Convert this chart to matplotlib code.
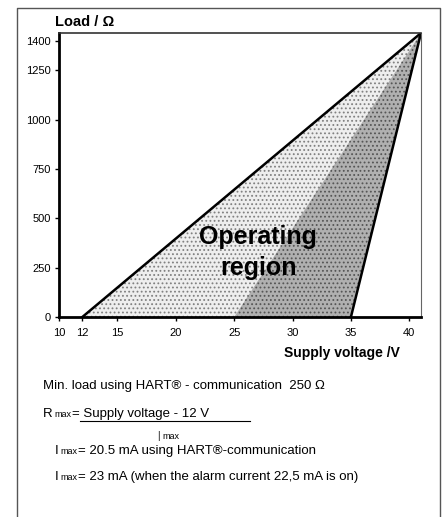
import matplotlib
matplotlib.use("Agg")
import matplotlib.pyplot as plt
import numpy as np
from matplotlib.lines import Line2D

plt.rcParams['font.family'] = ['Liberation Sans', 'DejaVu Sans']
plt.rcParams['hatch.linewidth'] = 0.8

# data
u_min = 12.0          # V, zero load
u_alarm = 35.0        # V, zero load on the steep edge
u_top = 41.0          # V, apex
r_top = 1440.0        # ohm, apex
u_shade = 25.0        # start of the darker shading
xticks = [10, 12, 15, 20, 25, 30, 35, 40]
yticks = [0, 250, 500, 750, 1000, 1250, 1400]

W, H = 442, 517
fig = plt.figure(figsize=(W / 100, H / 100), dpi=100)
ax = fig.add_axes([59/W, 1 - 317/H, (421 - 59)/W, (317 - 33)/H])

u = np.linspace(u_min, u_top, 200)
r_left = (u - u_min) / (u_top - u_min) * r_top
r_right = np.clip((u - u_alarm) / (u_top - u_alarm) * r_top, 0, None)
r_mid = np.clip((u - u_shade) / (u_top - u_shade) * r_top, 0, None)

ax.fill_between(u, r_right, r_left, facecolor='#eeeeee', edgecolor='#808080',
                hatch='....', linewidth=0)
ax.fill_between(u, r_right, r_mid, facecolor='#b0b0b0', edgecolor='#555555',
                hatch='....', linewidth=0)
ax.plot([u_min, u_top], [0, r_top], color='black', lw=1.8)
ax.plot([u_alarm, u_top], [0, r_top], color='black', lw=1.8)

ax.set_xlim(10, u_top)
ax.set_ylim(0, r_top)
ax.set_xticks(xticks)
ax.set_yticks(yticks)
ax.tick_params(labelsize=8, length=3, width=1, pad=3)
ax.tick_params(axis='x', pad=5)
for s in ['left', 'bottom']:
    ax.spines[s].set_linewidth(2)
ax.spines['top'].set_linewidth(1.2)
ax.spines['top'].set_color('#333333')
ax.spines['right'].set_linewidth(0.8)
ax.spines['right'].set_color('#666666')

ax.text(0.55, 0.228, 'Operating\nregion', transform=ax.transAxes,
        ha='center', va='center', fontsize=18, fontweight='bold',
        linespacing=1.35)

fig.text(55/W, 1 - 22/H, 'Load / Ω', fontsize=10.5, fontweight='bold',
         ha='left', va='center')
fig.text(400/W, 1 - 353/H, 'Supply voltage /V', fontsize=10,
         fontweight='bold', ha='right', va='center')


def put(x, y, s, size=9.5):
    fig.text(x / W, 1 - y / H, s, fontsize=size, ha='left', va='baseline')


put(43, 389, 'Min. load using HART® - communication  250 Ω')
put(43, 417, 'R')
put(54, 417, 'max', 6.5)
put(72, 417, '= Supply voltage - 12 V')
fig.add_artist(Line2D([80/W, 250/W], [1 - 421/H, 1 - 421/H],
                      color='black', lw=0.8))
put(157, 439, '|', 7)
put(162, 439, 'max', 6.5)
put(55, 454, 'I')
put(60, 454, 'max', 6.5)
put(78, 454, '= 20.5 mA using HART®-communication')
put(55, 480, 'I')
put(60, 480, 'max', 6.5)
put(78, 480, '= 23 mA (when the alarm current 22,5 mA is on)')

# outer frame (open at the bottom)
fl, fr, ft = 17/W, 440/W, 1 - 8/H
fig.add_artist(Line2D([fl, fl, fr, fr], [0, ft, ft, 0], color='#555555', lw=1))

fig.savefig('out.png', dpi=100)
